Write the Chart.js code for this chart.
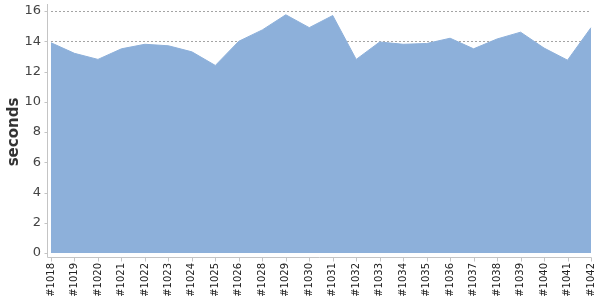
<!DOCTYPE html>
<html>
<head>
<meta charset="utf-8">
<script src="https://cdn.jsdelivr.net/npm/chart.js@4"></script>
<style>
  html, body { margin: 0; padding: 0; background: #fff; }
  #wrap { width: 600px; height: 300px; }
</style>
</head>
<body>
<div id="wrap"><canvas id="myChart"></canvas></div>
<script>
// build numbers (x axis)
const builds = ['#1018', '#1019', '#1020', '#1021', '#1022', '#1023', '#1024', '#1025',
  '#1026', '#1028', '#1029', '#1030', '#1031', '#1032', '#1033', '#1034', '#1035',
  '#1036', '#1037', '#1038', '#1039', '#1040', '#1041', '#1042'];

// duration in seconds
const seconds = [13.9, 13.2, 12.8, 13.5, 13.8, 13.7, 13.3, 12.4,
  14.0, 14.75, 15.75, 14.9, 15.7, 12.8, 13.95, 13.8, 13.85,
  14.2, 13.5, 14.15, 14.6, 13.55, 12.75, 14.9];

const yMin = 0;
const yMax = 16;
const yStep = 2;

const fillColor = '#8db0da';
const axisColor = '#c4c4c4';
const gridColor = 'rgba(90,90,90,0.55)';

// axis lines sit a few px away from the plot, like the original
const offsetAxes = {
  id: 'offsetAxes',
  afterDraw(chart) {
    let c = chart.ctx;
    let a = chart.chartArea;
    let gap = 4;
    let ax = a.left - gap + 0.5;
    let ay = a.bottom + gap + 0.5;
    c.save();
    c.strokeStyle = axisColor;
    c.lineWidth = 1;
    c.beginPath();
    c.moveTo(ax, a.top - 7);
    c.lineTo(ax, ay);
    c.lineTo(a.right + 0.5, ay);
    let xs = chart.scales.x;
    for (let i = 0; i < builds.length; i++) {
      let px = Math.round(xs.getPixelForTick(i)) + 0.5;
      c.moveTo(px, ay);
      c.lineTo(px, ay + 4);
    }
    let ys = chart.scales.y;
    for (let i = 0; i < ys.ticks.length; i++) {
      let py = Math.round(ys.getPixelForTick(i)) + 0.5;
      c.moveTo(ax, py);
      c.lineTo(ax - 3, py);
    }
    c.stroke();
    c.restore();
  }
};

let ctx = document.getElementById('myChart');

let chart = new Chart(ctx, {
  type: 'line',
  data: {
    labels: builds,
    datasets: [{
      data: seconds,
      fill: 'origin',
      backgroundColor: fillColor,
      borderColor: fillColor,
      borderWidth: 1,
      pointRadius: 0,
      tension: 0
    }]
  },
  options: {
    responsive: true,
    maintainAspectRatio: false,
    animation: false,
    layout: { padding: { top: 11, right: 9, left: 0, bottom: 0 } },
    plugins: {
      legend: { display: false },
      tooltip: { enabled: false }
    },
    scales: {
      x: {
        offset: false,
        grid: { display: false, drawTicks: false },
        border: { display: false },
        ticks: {
          autoSkip: false,
          maxRotation: 90,
          minRotation: 90,
          color: '#222',
          padding: 10,
          font: { family: 'DejaVu Sans', size: 10 }
        },
        afterFit(scale) {
          scale.height = 47;
          scale.paddingLeft = 0;
          scale.paddingRight = 0;
        }
      },
      y: {
        min: yMin,
        max: yMax,
        z: 1,
        grid: {
          color: (c) => (c.tick && c.tick.value === 0 ? 'rgba(0,0,0,0)' : gridColor),
          drawTicks: false
        },
        border: { display: false, dash: [2, 2] },
        ticks: {
          stepSize: yStep,
          color: '#444',
          padding: 10,
          font: { family: 'DejaVu Sans', size: 13 }
        },
        title: {
          display: true,
          text: 'seconds',
          color: '#333',
          padding: { top: 7, bottom: 1 },
          font: { family: 'DejaVu Sans', size: 15, weight: 'bold', lineHeight: 1 }
        },
        afterFit(scale) {
          scale.width = 51;
          scale.paddingTop = 0;
          scale.paddingBottom = 0;
        }
      }
    }
  },
  plugins: [offsetAxes]
});
</script>
</body>
</html>
